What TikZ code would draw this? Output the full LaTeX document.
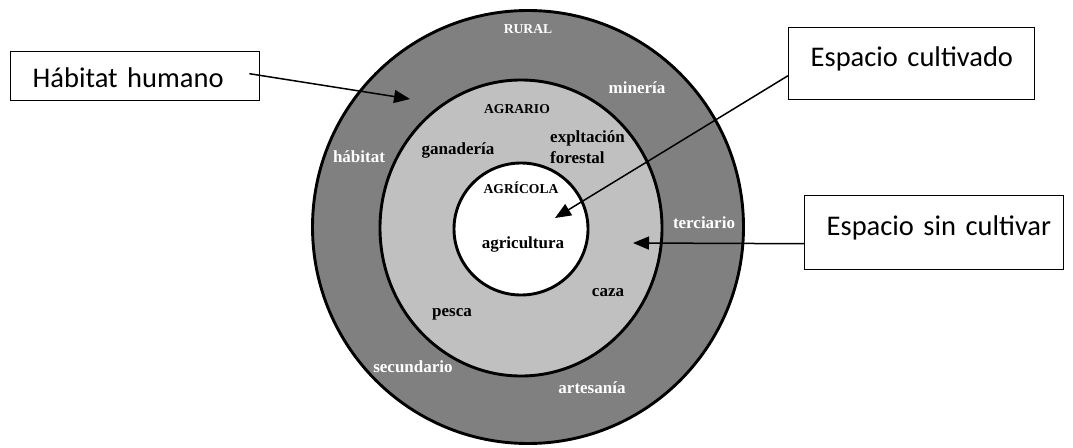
\documentclass[tikz,border=0pt]{standalone}
\usepackage{fontspec}
\setmainfont{Liberation Serif}
\newfontfamily\boxfont{Carlito}
\usetikzlibrary{arrows.meta,shapes.geometric}
\definecolor{ringdark}{RGB}{128,128,128}
\definecolor{ringlight}{RGB}{192,192,192}
\begin{document}
\begin{tikzpicture}[x=1pt,y=-1pt,
  ring/.style={draw=black,line width=2.9pt,ellipse,inner sep=0pt,outer sep=0pt},
  lbl/.style={font=\bfseries\fontsize{17}{17}\selectfont,anchor=base,inner sep=0pt},
  caplbl/.style={font=\bfseries\fontsize{13.6}{14}\selectfont,anchor=base,inner sep=0pt},
  wlbl/.style={lbl,text=white},
  wcaplbl/.style={caplbl,text=white},
  callout/.style={draw=black,line width=1.4pt,rectangle,font=\boxfont\fontsize{28.5}{30}\selectfont,anchor=north west,inner xsep=22pt,inner ysep=0pt,align=left},
  pointer/.style={line width=1.5pt,-{Triangle[length=16pt,width=13pt]}}
]
\useasboundingbox[fill=white] (0,0) rectangle (1073,447);

% rings
\node[ring,fill=ringdark,minimum width=431pt,minimum height=433pt] (outer) at (528,227) {};
\node[ring,fill=ringlight,minimum width=282pt,minimum height=296pt] (middle) at (521,228) {};
\node[ring,fill=white,minimum width=134pt,minimum height=132pt] (inner) at (521,229) {};

% labels in the outer ring
\node[wcaplbl] (rural) at (528,33) {RURAL};
\node[wlbl] (mineria) at (637,93) {minería};
\node[wlbl] (habitat) at (359,162) {hábitat};
\node[wlbl] (terciario) at (704,228) {terciario};
\node[wlbl] (secundario) at (413,372) {secundario};
\node[wlbl] (artesania) at (592,393) {artesanía};

% labels in the middle ring
\node[caplbl] (agrario) at (517,113) {AGRARIO};
\node[lbl] (ganaderia) at (458,154) {ganadería};
\node[lbl,anchor=base west] (explt) at (550,142) {expltación};
\node[lbl,anchor=base west] (forestal) at (550,163) {forestal};
\node[lbl] (caza) at (608,296) {caza};
\node[lbl] (pesca) at (452,316) {pesca};

% labels in the inner circle
\node[caplbl] (agricola) at (521,193) {AGRÍCOLA};
\node[lbl] (agricultura) at (523,248) {agricultura};

% callout boxes
\node[callout,text width=205pt,text height=36pt,text depth=13pt] (hab) at (10,51) {\mbox{Hábitat humano}};
\node[callout,text width=202pt,text height=39pt,text depth=33pt] (cult) at (788,27) {\mbox{Espacio cultivado}};
\node[callout,text width=215pt,text height=40pt,text depth=34pt] (sin) at (804,195) {\mbox{Espacio sin cultivar}};

% pointer targets
\coordinate (habtip) at (410,99);
\coordinate (culttip) at (555,218);
\coordinate (sintip) at (633,243);

\draw[pointer] ([xshift=-11pt,yshift=2.5pt]hab.east) -- (habtip);
\draw[pointer] ([yshift=-12pt]cult.west) -- (culttip);
\draw[pointer] ([yshift=-11pt]sin.west) -- (sintip);
\end{tikzpicture}
\end{document}
